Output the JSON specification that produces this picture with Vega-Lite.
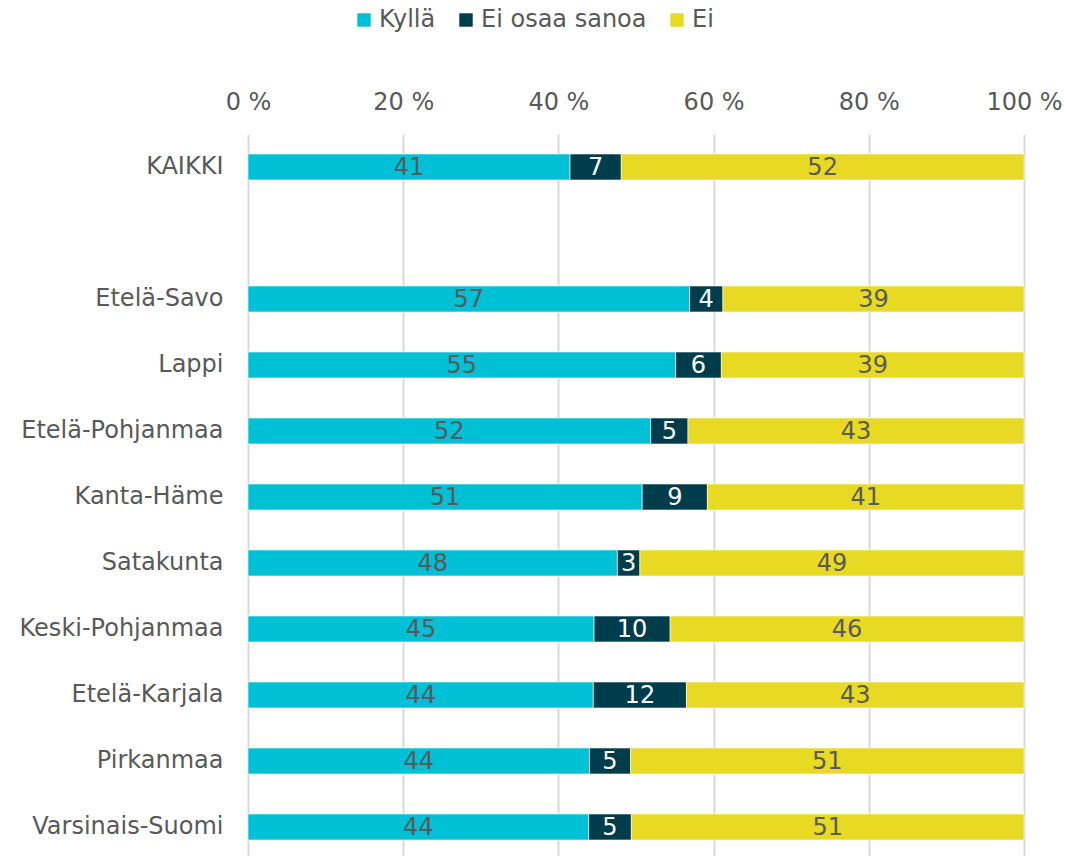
{
  "$schema": "https://vega.github.io/schema/vega-lite/v6.json",
  "autosize": {"type": "none"},
  "padding": {"left": 248, "top": 134, "right": 42, "bottom": 0},
  "width": 776,
  "height": 726,
  "background": "white",
  "config": {
    "view": {"stroke": null},
    "font": "DejaVu Sans",
    "axis": {"labelFont": "DejaVu Sans", "labelColor": "#595959", "labelFontSize": 24, "labelLimit": 0},
    "legend": {"labelFont": "DejaVu Sans", "labelColor": "#595959", "labelFontSize": 24, "labelLimit": 0}
  },
  "data": {
    "values": [
      {"region": "KAIKKI", "answer": "Kyllä", "value": 41.5, "label": "41"},
      {"region": "KAIKKI", "answer": "Ei osaa sanoa", "value": 6.6, "label": "7"},
      {"region": "KAIKKI", "answer": "Ei", "value": 51.9, "label": "52"},
      {"region": "Etelä-Savo", "answer": "Kyllä", "value": 56.9, "label": "57"},
      {"region": "Etelä-Savo", "answer": "Ei osaa sanoa", "value": 4.3, "label": "4"},
      {"region": "Etelä-Savo", "answer": "Ei", "value": 38.8, "label": "39"},
      {"region": "Lappi", "answer": "Kyllä", "value": 55.1, "label": "55"},
      {"region": "Lappi", "answer": "Ei osaa sanoa", "value": 5.9, "label": "6"},
      {"region": "Lappi", "answer": "Ei", "value": 39.0, "label": "39"},
      {"region": "Etelä-Pohjanmaa", "answer": "Kyllä", "value": 51.9, "label": "52"},
      {"region": "Etelä-Pohjanmaa", "answer": "Ei osaa sanoa", "value": 4.8, "label": "5"},
      {"region": "Etelä-Pohjanmaa", "answer": "Ei", "value": 43.3, "label": "43"},
      {"region": "Kanta-Häme", "answer": "Kyllä", "value": 50.8, "label": "51"},
      {"region": "Kanta-Häme", "answer": "Ei osaa sanoa", "value": 8.4, "label": "9"},
      {"region": "Kanta-Häme", "answer": "Ei", "value": 40.8, "label": "41"},
      {"region": "Satakunta", "answer": "Kyllä", "value": 47.6, "label": "48"},
      {"region": "Satakunta", "answer": "Ei osaa sanoa", "value": 2.9, "label": "3"},
      {"region": "Satakunta", "answer": "Ei", "value": 49.5, "label": "49"},
      {"region": "Keski-Pohjanmaa", "answer": "Kyllä", "value": 44.6, "label": "45"},
      {"region": "Keski-Pohjanmaa", "answer": "Ei osaa sanoa", "value": 9.8, "label": "10"},
      {"region": "Keski-Pohjanmaa", "answer": "Ei", "value": 45.6, "label": "46"},
      {"region": "Etelä-Karjala", "answer": "Kyllä", "value": 44.5, "label": "44"},
      {"region": "Etelä-Karjala", "answer": "Ei osaa sanoa", "value": 12.0, "label": "12"},
      {"region": "Etelä-Karjala", "answer": "Ei", "value": 43.5, "label": "43"},
      {"region": "Pirkanmaa", "answer": "Kyllä", "value": 44.0, "label": "44"},
      {"region": "Pirkanmaa", "answer": "Ei osaa sanoa", "value": 5.3, "label": "5"},
      {"region": "Pirkanmaa", "answer": "Ei", "value": 50.7, "label": "51"},
      {"region": "Varsinais-Suomi", "answer": "Kyllä", "value": 43.9, "label": "44"},
      {"region": "Varsinais-Suomi", "answer": "Ei osaa sanoa", "value": 5.5, "label": "5"},
      {"region": "Varsinais-Suomi", "answer": "Ei", "value": 50.6, "label": "51"}
    ]
  },
  "transform": [
    {"stack": "value", "groupby": ["region"], "sort": [{"field": "answer", "order": "descending"}], "offset": "normalize", "as": ["v0", "v1"]},
    {"calculate": "(datum.v0 + datum.v1) / 2", "as": "vmid"}
  ],
  "encoding": {
    "y": {
      "field": "region",
      "type": "nominal",
      "scale": {
        "domain": ["KAIKKI", " ", "Etelä-Savo", "Lappi", "Etelä-Pohjanmaa", "Kanta-Häme", "Satakunta", "Keski-Pohjanmaa", "Etelä-Karjala", "Pirkanmaa", "Varsinais-Suomi"],
        "paddingInner": 0.606,
        "paddingOuter": 0.303
      },
      "axis": {"title": null, "domain": false, "ticks": false, "labelPadding": 25}
    }
  },
  "layer": [
    {
      "mark": {"type": "bar", "stroke": "white", "strokeWidth": 0.6},
      "encoding": {
        "x": {
          "field": "v0",
          "type": "quantitative",
          "scale": {"domain": [0, 1], "nice": false},
          "axis": {
            "orient": "top",
            "title": null,
            "values": [0, 0.2, 0.4, 0.6, 0.8, 1],
            "labelExpr": "round(datum.value * 100) + ' %'",
            "labelFlush": false,
            "labelOverlap": false,
            "labelBound": false,
            "domain": false,
            "ticks": false,
            "grid": true,
            "gridColor": "#d9d9d9",
            "gridWidth": 2,
            "labelPadding": 20
          }
        },
        "x2": {"field": "v1"},
        "color": {
          "field": "answer",
          "type": "nominal",
          "scale": {"domain": ["Kyllä", "Ei osaa sanoa", "Ei"], "range": ["#00c0d6", "#003d4c", "#e8da22"]},
          "legend": {
            "title": null,
            "orient": "none",
            "direction": "horizontal",
            "legendX": 104,
            "legendY": -126,
            "symbolType": "square",
            "symbolSize": 180,
            "symbolStrokeWidth": 0,
            "columnPadding": 18,
            "labelOffset": 3
          }
        }
      }
    },
    {
      "mark": {"type": "text", "fontSize": 24, "baseline": "middle", "align": "center", "dy": 1},
      "encoding": {
        "x": {"field": "vmid", "type": "quantitative"},
        "text": {"field": "label"},
        "color": {
          "condition": {"test": "datum.answer === 'Ei osaa sanoa'", "value": "white"},
          "value": "#595959"
        }
      }
    }
  ]
}
